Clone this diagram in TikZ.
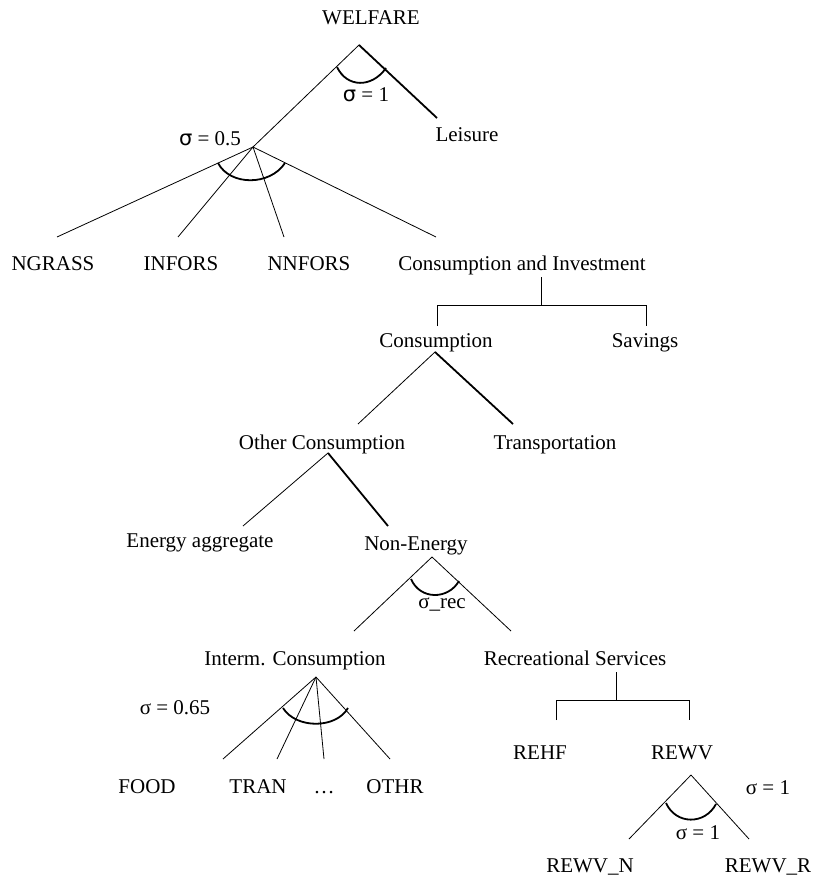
\documentclass[tikz,border=0pt]{standalone}
\usepackage{fontspec}
\setmainfont{Liberation Serif}
\newfontfamily\sigfont{DejaVu Sans}
\usetikzlibrary{positioning}
\tikzset{
    %Define style for labels
    lbl/.style={
           inner sep=0pt,
           text height=17pt,
           text depth=3pt,
           font=\fontsize{21}{25}\selectfont},
    % Define line styles
    thin line/.style={
           line width=0.8pt},
    thick line/.style={
           line width=1.8pt},
    elast/.style={
           line width=1.8pt}
}

\begin{document}
\begin{tikzpicture}[x=1pt, y=-1pt]
 \useasboundingbox (0,0) rectangle (817,880);
 %nodes
    \node[lbl] (wel) at (371,18) {WELFARE};
    \node[lbl] (leis) at (467,135) {Leisure};
    \node[lbl] (sw) at (366,95) {{\sigfont σ} = 1};
    \node[lbl] (sca) at (210,138) {{\sigfont σ} = 0.5};
    \node[lbl] (ngr) at (53,263) {NGRASS};
    \node[lbl] (inf) at (181,263) {INFORS};
    \node[lbl] (nnf) at (309,263) {NNFORS};
    \node[lbl] (ci) at (522,263) {Consumption and Investment};
    \node[lbl] (cons) at (436,340) {Consumption};
    \node[lbl] (sav) at (645,340) {Savings};
    \node[lbl] (oc) at (322,442) {Other Consumption};
    \node[lbl] (tra) at (555,442) {Transportation};
    \node[lbl] (ene) at (200,540) {Energy aggregate};
    \node[lbl] (nen) at (416,543) {Non-Energy};
    \node[lbl] (srec) at (442,601) {σ\_rec};
    \node[lbl] (ic) at (295,658) {Interm. Consumption};
    \node[lbl] (rs) at (575,658) {Recreational Services};
    \node[lbl] (sic) at (175,707) {σ = 0.65};
    \node[lbl] (food) at (147,786) {FOOD};
    \node[lbl] (tran) at (258,786) {TRAN};
    \node[lbl] (dots) at (324,786) {…};
    \node[lbl] (othr) at (395,786) {OTHR};
    \node[lbl] (rehf) at (540,752) {REHF};
    \node[lbl] (rewv) at (682,752) {REWV};
    \node[lbl] (srw) at (768,787) {σ = 1};
    \node[lbl] (srv) at (698,832) {σ = 1};
    \node[lbl] (rwn) at (590,865) {REWV\_N};
    \node[lbl] (rwr) at (768,865) {REWV\_R};
 %branch points
    \coordinate (wtop) at (359,45);
    \coordinate (wleis) at (437,118);
    \coordinate (ctop) at (253,147);
    \coordinate (cngr) at (57,237);
    \coordinate (cinf) at (178,237);
    \coordinate (cnnf) at (284,237);
    \coordinate (cci) at (436,237);
    \coordinate (cit) at (541,277);
    \coordinate (cil) at (437,305);
    \coordinate (cir) at (646,305);
    \coordinate (cib) at (541,305);
    \coordinate (ctp) at (435,352);
    \coordinate (cto) at (358,424);
    \coordinate (ctt) at (513,424);
    \coordinate (otp) at (328,453);
    \coordinate (ote) at (243,526);
    \coordinate (otn) at (388,526);
    \coordinate (ntp) at (432,557);
    \coordinate (nti) at (354,631);
    \coordinate (ntr) at (511,631);
    \coordinate (itp) at (316,677);
    \coordinate (itf) at (223,759);
    \coordinate (itt) at (277,759);
    \coordinate (itd) at (324,759);
    \coordinate (ito) at (390,759);
    \coordinate (rst) at (616,672);
    \coordinate (rsb) at (616,700);
    \coordinate (rsl) at (556,700);
    \coordinate (rsr) at (689,700);
    \coordinate (rtp) at (691,775);
    \coordinate (rtn) at (629,839);
    \coordinate (rtr) at (749,839);
 %edges
    \draw[thin line] (wtop) -- (ctop);
    \draw[thick line] (wtop) -- (wleis);
    \draw[elast] (337,67) .. controls (347,88) and (372,88) .. (386,68);
    \foreach \e in {cngr,cinf,cnnf,cci}
        \draw[thin line] (ctop) -- (\e);
    \draw[elast] (218,163) .. controls (230,186) and (270,186) .. (285,163);
    \draw[thin line] (cit) -- (cib);
    \draw[thin line] (cil |- 0,326) -- (cil) -- (cir) -- (cir |- 0,326);
    \draw[thin line] (ctp) -- (cto);
    \draw[thick line] (ctp) -- (ctt);
    \draw[thin line] (otp) -- (ote);
    \draw[thick line] (otp) -- (otn);
    \draw[thin line] (ntp) -- (nti);
    \draw[thin line] (ntp) -- (ntr);
    \draw[elast] (411,579) .. controls (420,600) and (448,600) .. (459,581);
    \foreach \e in {itf,itt,itd,ito}
        \draw[thin line] (itp) -- (\e);
    \draw[elast] (283,708) .. controls (296,729) and (336,729) .. (348,708);
    \draw[thin line] (rst) -- (rsb);
    \draw[thin line] (rsl |- 0,720) -- (rsl) -- (rsr) -- (rsr |- 0,720);
    \draw[thin line] (rtp) -- (rtn);
    \draw[thin line] (rtp) -- (rtr);
    \draw[elast] (666,803) .. controls (676,825) and (705,825) .. (716,804);
\end{tikzpicture}
\end{document}
